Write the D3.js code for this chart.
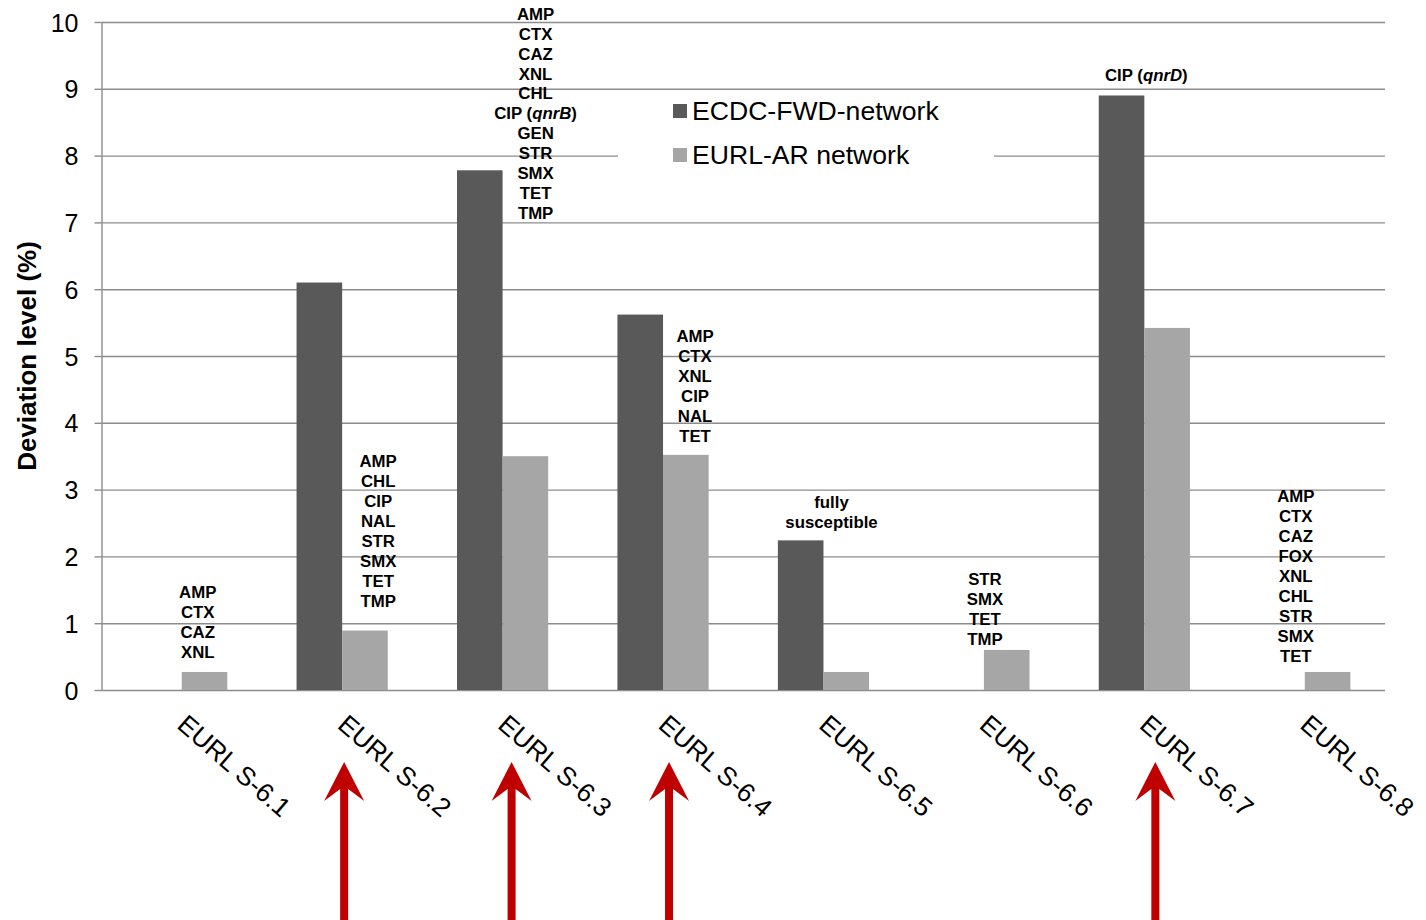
<!DOCTYPE html>
<html>
<head>
<meta charset="utf-8">
<script src="https://cdn.jsdelivr.net/npm/d3@7/dist/d3.min.js"></script>
<style>
  html, body { margin: 0; padding: 0; background: #fff; }
  svg { display: block; font-family: "Liberation Sans", Arial, Helvetica, sans-serif; }
</style>
</head>
<body>
<svg id="chart" width="1426" height="920"></svg>
<script>
// ---------------- data ----------------
const categories = ["EURL S-6.1", "EURL S-6.2", "EURL S-6.3", "EURL S-6.4",
                    "EURL S-6.5", "EURL S-6.6", "EURL S-6.7", "EURL S-6.8"];
const seriesNames = ["ECDC-FWD-network", "EURL-AR network"];
const ecdcValues = [0, 6.1, 7.78, 5.62, 2.24, 0, 8.9, 0];
const eurlValues = [0.27, 0.89, 3.5, 3.52, 0.27, 0.6, 5.42, 0.27];
const yTicks = [0, 1, 2, 3, 4, 5, 6, 7, 8, 9, 10];
const yTitle = "Deviation level (%)";

// resistance annotations per category (*...* = italic)
const annoLines = [
  ["AMP", "CTX", "CAZ", "XNL"],
  ["AMP", "CHL", "CIP", "NAL", "STR", "SMX", "TET", "TMP"],
  ["AMP", "CTX", "CAZ", "XNL", "CHL", "CIP (*qnrB*)", "GEN", "STR", "SMX", "TET", "TMP"],
  ["AMP", "CTX", "XNL", "CIP", "NAL", "TET"],
  ["fully", "susceptible"],
  ["STR", "SMX", "TET", "TMP"],
  ["CIP (*qnrD*)"],
  ["AMP", "CTX", "CAZ", "FOX", "XNL", "CHL", "STR", "SMX", "TET"]
];
// value level of the last annotation line's baseline
const annoBaseValue = [0.486, 1.249, 7.053, 3.717, 2.431, 0.681, 9.11, 0.426];
// categories marked with a red arrow
const arrowCats = ["EURL S-6.2", "EURL S-6.3", "EURL S-6.4", "EURL S-6.7"];

// ---------------- layout ----------------
const colors = ["#595959", "#a6a6a6"];
const plot = { left: 101.5, right: 1385, top: 22, bottom: 690 };
const annoDx = [16, 36, 33, 32, 8, 1, 2, -9];
const arrowDx = [2, 9, 6, 11];

const svg = d3.select("#chart");

const x0 = d3.scaleBand().domain(categories).range([plot.left, plot.right]).padding(0);
const step = x0.step();
const barW = 45.6;
const x1 = d3.scaleBand().domain(seriesNames)
  .range([step / 2 - barW, step / 2 + barW]).padding(0);
const y = d3.scaleLinear().domain([0, 10]).range([plot.bottom, plot.top]);

// gridlines
const grid = svg.append("g")
  .attr("transform", `translate(${plot.left},0)`)
  .call(d3.axisLeft(y).tickValues(yTicks).tickSize(-(plot.right - plot.left)).tickFormat(""));
grid.select(".domain").remove();
grid.selectAll(".tick line").attr("stroke", "#8c8c8c").attr("stroke-width", 1.4);

// left axis with outer ticks and labels
const yAxis = svg.append("g")
  .attr("transform", `translate(${plot.left},0)`)
  .call(d3.axisLeft(y).tickValues(yTicks).tickSizeInner(7).tickSizeOuter(0).tickPadding(16));
yAxis.select(".domain").attr("stroke", "#8c8c8c").attr("stroke-width", 1.4);
yAxis.selectAll(".tick line").attr("stroke", "#8c8c8c").attr("stroke-width", 1.4);
yAxis.selectAll(".tick text")
  .attr("font-size", 25).attr("fill", "#000")
  .attr("font-family", "'Liberation Sans', Arial, sans-serif")
  .attr("dy", "0.36em");

// y title
svg.append("text")
  .attr("transform", `translate(36,${(y(0) + y(10)) / 2}) rotate(-90)`)
  .attr("text-anchor", "middle")
  .attr("font-size", 26).attr("font-weight", "bold").attr("fill", "#000")
  .text(yTitle);

// bars
const rows = categories.map((c, i) => ({ cat: c, vals: [ecdcValues[i], eurlValues[i]] }));
const groups = svg.append("g").selectAll("g").data(rows).join("g")
  .attr("transform", d => `translate(${x0(d.cat)},0)`);
groups.selectAll("rect")
  .data(d => d.vals.map((v, j) => ({ s: seriesNames[j], v, j })).filter(e => e.v > 0))
  .join("rect")
  .attr("x", e => x1(e.s))
  .attr("width", x1.bandwidth())
  .attr("y", e => y(e.v))
  .attr("height", e => y(0) - y(e.v))
  .attr("fill", e => colors[e.j]);

// category labels (rotated)
svg.append("g").selectAll("text").data(categories).join("text")
  .attr("transform", c => `translate(${x0(c) + step / 2 - 6},727) rotate(41)`)
  .attr("font-size", 26.3).attr("fill", "#000")
  .text(c => c);

// annotations
const lineH = 19.9;
categories.forEach((c, i) => {
  const lines = annoLines[i];
  const cx = x0(c) + step / 2 + annoDx[i];
  const yLast = y(annoBaseValue[i]);
  const t = svg.append("text")
    .attr("text-anchor", "middle")
    .attr("font-size", 16.8).attr("font-weight", "bold").attr("fill", "#000");
  lines.forEach((ln, k) => {
    const ly = yLast - (lines.length - 1 - k) * lineH;
    const tl = t.append("tspan").attr("x", cx).attr("y", ly);
    ln.split("*").forEach((part, p) => {
      if (!part) return;
      const sp = tl.append("tspan").text(part);
      if (p % 2 === 1) sp.attr("font-style", "italic");
    });
  });
});

// legend
const lg = svg.append("g");
lg.append("rect").attr("x", 618).attr("y", 90.5).attr("width", 376).attr("height", 67.5).attr("fill", "#fff");
seriesNames.forEach((s, i) => {
  const by = 119.5 + i * 44;
  lg.append("rect").attr("x", 673).attr("y", by - 15.5).attr("width", 14).attr("height", 14).attr("fill", colors[i]);
  lg.append("text").attr("x", 692).attr("y", by).attr("font-size", 26.6).attr("fill", "#000").text(s);
});

// red arrows
const tipY = 762, headY = 801, neckY = 789, headHalf = 20, shaftHalf = 4, baseY = 920;
svg.append("g").selectAll("path").data(arrowCats).join("path")
  .attr("d", (c, i) => {
    const cx = x0(c) + step / 2 + arrowDx[i];
    return d3.line()([
      [cx, tipY], [cx + headHalf, headY], [cx + shaftHalf, neckY], [cx + shaftHalf, baseY],
      [cx - shaftHalf, baseY], [cx - shaftHalf, neckY], [cx - headHalf, headY]
    ]) + "Z";
  })
  .attr("fill", "#c00000");
</script>
</body>
</html>
